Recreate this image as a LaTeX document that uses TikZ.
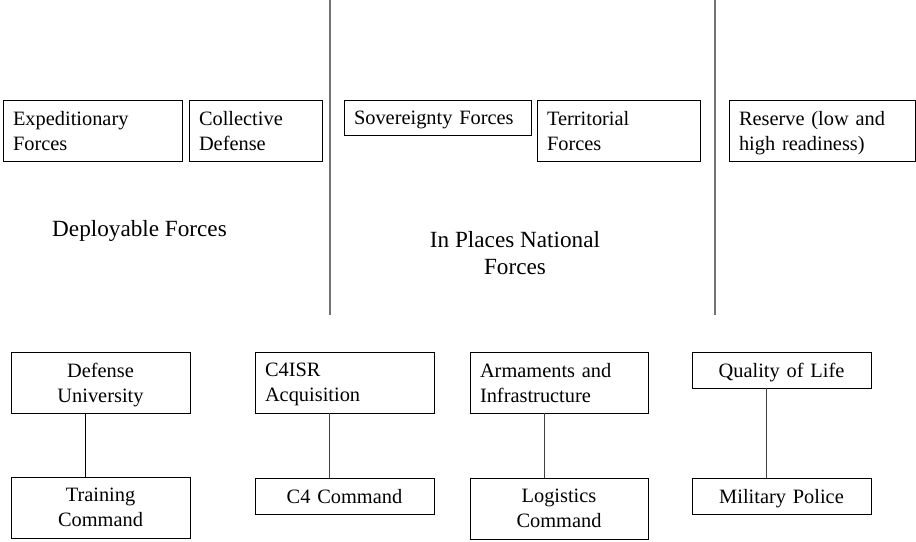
\documentclass[tikz,border=0pt]{standalone}
\usepackage{fontspec}
\setmainfont{Liberation Serif}
\usepackage{tikz}

\newcommand{\boxfont}{\fontsize{14.5}{17.8}\selectfont}
\newcommand{\groupfont}{\fontsize{16.5}{19.2}\selectfont}

\begin{document}
\begin{tikzpicture}[
        unit/.style={
            draw,
            rectangle,
            line width=0.6pt,
            inner xsep=0.25cm,
            inner ysep=0pt,
            text depth=17.8pt,
            font=\boxfont,
            align=left
        },
        cunit/.style={
            unit,
            align=center
        },
        single/.style={
            text depth=0pt,
            minimum height=0.9cm
        },
        group/.style={
            font=\groupfont,
            align=center
        },
        divider/.style={
            draw=black!55,
            line width=0.8pt
        },
        link/.style={
            draw=black!75,
            line width=0.6pt
        }
    ]
    \useasboundingbox (0,0) rectangle (22.9,13.525);

    \node[unit, text width=3.975cm, minimum height=1.525cm] (expeditionary) at (2.3125, 10.2625) {Expeditionary \\ Forces};
    \node[unit, text width=2.825cm, minimum height=1.525cm] (collective) at (6.3875, 10.2625) {Collective \\ Defense};
    \node[unit, single, text width=4.175cm, minimum height=0.875cm] (sovereignty) at (10.9375, 10.5875) {Sovereignty Forces};
    \node[unit, text width=3.575cm, minimum height=1.525cm] (territorial) at (15.4625, 10.2625) {Territorial \\ Forces};
    \node[unit, text width=4.15cm, minimum height=1.525cm] (reserve) at (20.55, 10.2625) {Reserve (low and \\ high readiness)};

    \node[group] (deployable) at (3.4875, 7.75) {Deployable Forces};
    \node[group] (inplace) at (12.875, 7.2) {In Places National \\ Forces};

    \coordinate (div1top) at (8.25, 13.525);
    \coordinate (div1bot) at (8.25, 5.65);
    \coordinate (div2top) at (17.875, 13.525);
    \coordinate (div2bot) at (17.875, 5.65);
    \draw[divider] (div1top) -- (div1bot);
    \draw[divider] (div2top) -- (div2bot);

    \node[cunit, text width=3.975cm, minimum height=1.525cm] (university) at (2.5125, 3.9625) {Defense \\ University};
    \node[cunit, text width=3.975cm, minimum height=1.525cm] (training) at (2.5125, 0.8375) {Training \\ Command};
    \node[unit, text width=3.975cm, minimum height=1.525cm] (c4isr) at (8.6125, 3.9625) {C4ISR \\ Acquisition};
    \node[cunit, single, text width=3.975cm] (c4command) at (8.6125, 1.125) {C4 Command};
    \node[unit, text width=3.95cm, minimum height=1.525cm] (armaments) at (13.975, 3.9625) {Armaments and \\ Infrastructure};
    \node[cunit, text width=3.95cm, minimum height=1.525cm] (logistics) at (13.975, 0.8125) {Logistics \\ Command};
    \node[cunit, single, text width=3.975cm] (quality) at (19.5375, 4.275) {Quality of Life};
    \node[cunit, single, text width=3.975cm] (police) at (19.5375, 1.125) {Military Police};

    \draw[link, draw=black] ([xshift=-0.375cm]university.south) -- ([xshift=-0.375cm]training.north);
    \draw[link] ([xshift=-0.375cm]c4isr.south) -- ([xshift=-0.375cm]c4command.north);
    \draw[link] ([xshift=-0.375cm]armaments.south) -- ([xshift=-0.375cm]logistics.north);
    \draw[link] ([xshift=-0.375cm]quality.south) -- ([xshift=-0.375cm]police.north);

    \end{tikzpicture}
\end{document}
